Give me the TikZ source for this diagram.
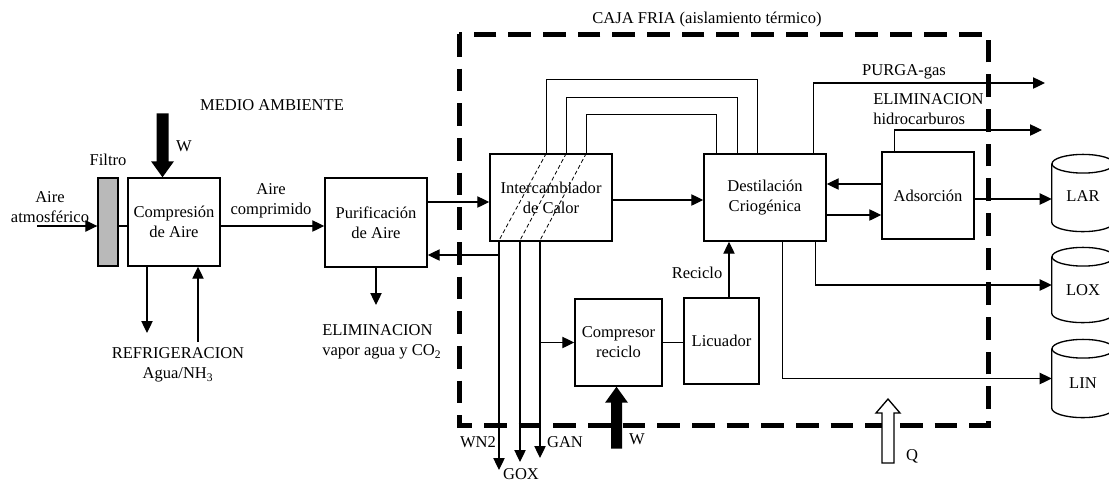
\documentclass[tikz,border=0pt]{standalone}
\usepackage{fontspec}
\setmainfont{Liberation Serif}
\usetikzlibrary{arrows.meta,calc}
\begin{document}
\begin{tikzpicture}[x=0.75pt,y=-0.75pt,
  font=\fontsize{12.4}{15}\selectfont,
  box/.style={draw, line width=1.1pt, align=center, inner sep=0pt},
  cyl/.style={inner sep=0pt, minimum width=46.5pt},
  lbl/.style={align=center, inner sep=0pt},
  ln/.style={line width=0.9pt},
  arr/.style={line width=0.9pt, -{Triangle[length=9pt,width=8.5pt]}},
  hatch/.style={dashed, line width=0.6pt, dash pattern=on 3pt off 2pt}]
\useasboundingbox (0,0) rectangle (1109,483);

% cold box
\draw[line width=3.75pt, dash pattern=on 17pt off 9pt] (459,34) rectangle (988,425);

% boxes
\node[draw, line width=1pt, fill=gray!55, minimum width=15pt, minimum height=66pt, inner sep=0pt] (filt) at (108,222) {};
\node[box, minimum width=69pt, minimum height=66pt] (comp) at (174,222) {Compresión\\de Aire};
\node[box, minimum width=76.5pt, minimum height=66.75pt] (pur) at (376,222.5) {Purificación\\de Aire};
\node[box, minimum width=91.5pt, minimum height=65.25pt] (int) at (551,197.5) {Intercambiador\\de Calor};
\node[box, minimum width=91.5pt, minimum height=65.25pt] (dest) at (765,197.5) {Destilación\\Criogénica};
\node[box, minimum width=69pt, minimum height=65.25pt] (ads) at (928,195.5) {Adsorción};
\node[box, minimum width=65.25pt, minimum height=65.25pt] (crec) at (618.5,342.5) {Compresor\\reciclo};
\node[box, minimum width=56.25pt, minimum height=64.5pt] (lic) at (721.5,341) {Licuador};

% tanks
\node[cyl, minimum height=43.5pt] (lar) at (1083,193) {};
\node[cyl, minimum height=42pt] (lox) at (1083,285) {};
\node[cyl, minimum height=44.25pt] (lin) at (1083,378.5) {};
\foreach \c in {lar,lox,lin}{
  \draw[line width=1pt] (\c.north west) -- (\c.south west)
    arc[start angle=180,end angle=360,x radius=23.25pt,y radius=7pt] -- (\c.north east);
  \draw[line width=1pt] (\c.north) ellipse[x radius=23.25pt,y radius=7pt];
}
\node[lbl] (tlar) at (1083,196) {LAR};
\node[lbl] (tlox) at (1083,290) {LOX};
\node[lbl] (tlin) at (1083,383) {LIN};

% labels
\node[lbl] (lairin) at (50,207) {Aire\\atmosférico};
\node[lbl] (lfiltro) at (108,160) {Filtro};
\node[lbl] (lw1) at (184,146) {W};
\node[lbl] (lmedio) at (272,105) {MEDIO AMBIENTE};
\node[lbl] (lcomp) at (271,201) {Aire\\comprimido};
\node[lbl, align=left, anchor=west] (lelim) at (322,342) {ELIMINACION\\vapor agua y CO\textsubscript{2}};
\node[lbl] (lref) at (178,365) {REFRIGERACION\\Agua/NH\textsubscript{3}};
\node[lbl] (lcaja) at (707,20) {CAJA FRIA (aislamiento térmico)};
\node[lbl] (lpurga) at (904,72) {PURGA-gas};
\node[lbl, align=left, anchor=west] (lhc) at (873,109) {ELIMINACION\\hidrocarburos};
\node[lbl] (lrec) at (697,273) {Reciclo};
\node[lbl] (lwn2) at (478,442) {WN2};
\node[lbl] (lgox) at (521,474) {GOX};
\node[lbl] (lgan) at (565,442) {GAN};
\node[lbl] (lw2) at (637,439) {W};
\node[lbl] (lq) at (912,456) {Q};

% coordinates
\coordinate (airin) at (37,226);
\coordinate (refd) at (147,333);
\coordinate (refu) at (198,342);
\coordinate (elimend) at (376,305);
\coordinate (wn2end) at (499,470);
\coordinate (goxend) at (520,462);
\coordinate (ganend) at (540,458);
\coordinate (wn2j) at (499,255);
\coordinate (purgaend) at (1045,83);
\coordinate (hcend) at (1042,130);
\coordinate (recx) at ($(lic.north)+(7.5,0)$);
\coordinate (pg) at ($(dest.north east)+(-13,0)$);
\coordinate (hc) at ($(ads.north west)+(13,0)$);
\coordinate (lx) at ($(dest.south east)+(-11,0)$);
\coordinate (linx) at ($(dest.south west)+(79,0)$);
\coordinate (a1) at ($(ads.west)+(0,-11.5)$);
\coordinate (a2) at ($(dest.east)+(0,17.5)$);
\coordinate (a3) at ($(ads.east)+(0,3.5)$);
\coordinate (pin) at ($(pur.east)+(0,-20.5)$);

% left chain
\draw[arr] (airin) -- (airin -| filt.west);
\draw[ln] (airin -| filt.east) -- (airin -| comp.west);
\draw[arr] (airin -| comp.east) -- (airin -| pur.west);
\draw[arr] (refd |- comp.south) -- (refd);
\draw[arr] (refu) -- (refu |- comp.south);
\draw[arr] (pur.south) -- (elimend);
\draw[arr] (pin) -- (pin -| int.west);
\draw[arr] (wn2j) -- (wn2j -| pur.east);

% exchanger loops
\draw[ln] ($(int.north west)+(57,0)$) -- ++(0,-74) -| ($(dest.north west)+(54,0)$);
\draw[ln] ($(int.north west)+(77,0)$) -- ++(0,-56) -| ($(dest.north west)+(34,0)$);
\draw[ln] ($(int.north west)+(97,0)$) -- ++(0,-39) -| ($(dest.north west)+(13,0)$);
\draw[hatch] ($(int.north west)+(57,0)$) -- ($(int.south west)+(9,0)$);
\draw[hatch] ($(int.north west)+(77,0)$) -- ($(int.south west)+(30,0)$);
\draw[hatch] ($(int.north west)+(97,0)$) -- ($(int.south west)+(50,0)$);
\draw[arr] (wn2end |- int.south) -- (wn2end);
\draw[arr] (goxend |- int.south) -- (goxend);
\draw[arr] (ganend |- int.south) -- (ganend);
\draw[arr] (ganend |- crec.west) -- (crec.west);
\draw[arr] ($(int.east)+(0,2.5)$) -- ($(dest.west)+(0,2.5)$);
\draw[ln] (crec.east) -- (crec.east -| lic.west);
\draw[arr] (recx) -- (recx |- dest.south);

% right side
\draw[arr] (pg) |- (purgaend);
\draw[arr] (hc) |- (hcend);
\draw[arr] (a1) -- (a1 -| dest.east);
\draw[arr] (a2) -- (a2 -| ads.west);
\draw[arr] (a3) -- (a3 -| lar.west);
\draw[arr] (lx) |- (lox.west);
\draw[arr] (linx) |- (lin.west);

% work / heat arrows
\coordinate (wt) at ($(comp.north)+(-11.5,0)$);
\fill (wt) -- ++(-11.5,-16) -- ++(5.5,0) -- ++(0,-48) -- ++(12,0) -- ++(0,48) -- ++(5.5,0) -- cycle;
\coordinate (wb) at ($(crec.south)+(-2,0)$);
\fill (wb) -- ++(-11.5,16) -- ++(6,0) -- ++(0,46) -- ++(11,0) -- ++(0,-46) -- ++(6,0) -- cycle;
\coordinate (qtip) at (888,399);
\draw[line width=1pt, fill=white] (qtip) -- ++(-12,14) -- ++(6,0) -- ++(0,50) -- ++(12,0) -- ++(0,-50) -- ++(6,0) -- cycle;
\end{tikzpicture}
\end{document}
